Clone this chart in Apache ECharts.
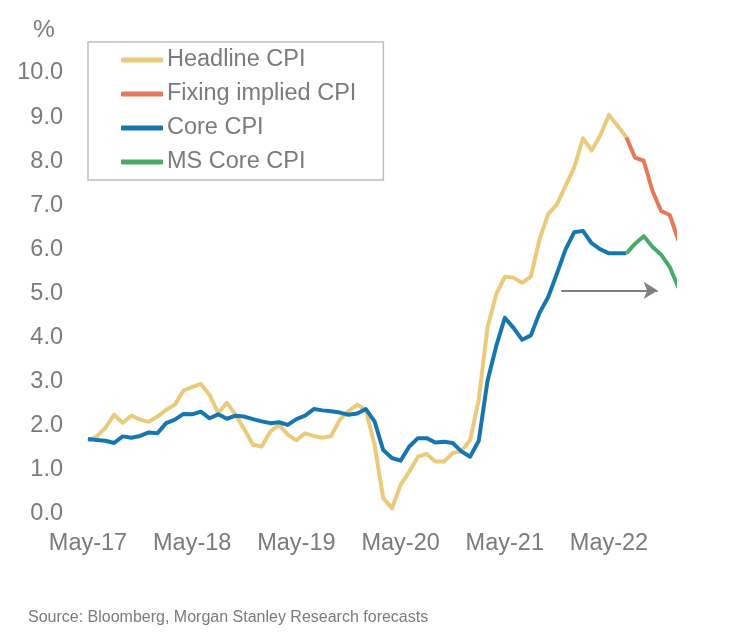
<!DOCTYPE html>
<html>
<head>
<meta charset="utf-8">
<script src="https://cdn.jsdelivr.net/npm/echarts@6/dist/echarts.min.js"></script>
<style>
html,body{margin:0;padding:0;background:#fff;}
#chart{width:754px;height:639px;}
</style>
</head>
<body>
<div id="chart"></div>
<script>
// ---- data (monthly, index 0 = first month on axis) ----
const tickLabels = ['May-17', 'May-18', 'May-19', 'May-20', 'May-21', 'May-22'];
const monthsPerTick = 12;
const lastMonthIndex = 67.6; // right edge of the plotted period

const headlineCPI = [
  1.66, 1.76, 1.95, 2.25, 2.07, 2.23, 2.14, 2.09, 2.21, 2.36, 2.48, 2.80,
  2.88, 2.95, 2.70, 2.29, 2.52, 2.25, 1.92, 1.57, 1.53, 1.87, 2.02, 1.80,
  1.67, 1.83, 1.77, 1.73, 1.77, 2.14, 2.33, 2.48, 2.36, 1.57, 0.36, 0.13,
  0.66, 0.96, 1.30, 1.36, 1.19, 1.19, 1.38, 1.43, 1.67, 2.59, 4.22, 4.98,
  5.38, 5.36, 5.24, 5.38, 6.23, 6.80, 7.02, 7.44, 7.86, 8.52, 8.24, 8.59,
  9.05, 8.80, 8.54
];
const coreCPI = [
  1.70, 1.68, 1.66, 1.61, 1.76, 1.73, 1.77, 1.85, 1.83, 2.06, 2.14, 2.27,
  2.26, 2.32, 2.17, 2.26, 2.16, 2.23, 2.21, 2.15, 2.10, 2.06, 2.08, 2.02,
  2.15, 2.23, 2.38, 2.35, 2.33, 2.30, 2.25, 2.28, 2.38, 2.10, 1.45, 1.27,
  1.21, 1.53, 1.72, 1.72, 1.62, 1.64, 1.61, 1.42, 1.30, 1.66, 3.01, 3.80,
  4.45, 4.22, 3.95, 4.05, 4.56, 4.92, 5.45, 6.00, 6.39, 6.42, 6.14, 6.00,
  5.91, 5.91, 5.91
];
const forecastStart = 62; // month index where forecasts begin
const fixingImpliedCPI = [8.54, 8.08, 8.01, 7.33, 6.87, 6.78, 6.20];
const msCoreCPI = [5.91, 6.13, 6.30, 6.06, 5.88, 5.60, 5.13];

const arrowY = 5.07, arrowFrom = 54.5, arrowTo = 65.6;

// ---- helpers ----
const toPairs = (arr, offset) => arr.map((v, i) => [i + offset, v]);

const textColor = '#7b7b7b';
const font = 'Liberation Sans, Arial, sans-serif';
const fs = 23.5;

const chart = echarts.init(document.getElementById('chart'), null, {renderer: 'canvas'});
chart.setOption({
  animation: false,
  backgroundColor: '#ffffff',
  grid: {left: 88, right: 79, top: 73, bottom: 125, containLabel: false},
  legend: {
    orient: 'vertical',
    left: 88, top: 42,
    padding: [6, 27, 6, 33],
    borderColor: '#bfbfbf', borderWidth: 1.5,
    itemWidth: 42, itemHeight: 5, itemGap: 10,
    icon: 'roundRect',
    textStyle: {fontSize: fs, color: textColor, fontFamily: font, padding: [2, 0, 0, -1]},
    data: ['Headline CPI', 'Fixing implied CPI', 'Core CPI', 'MS Core CPI']
  },
  xAxis: {
    type: 'value', min: 0, max: lastMonthIndex, interval: monthsPerTick,
    axisLine: {show: false}, axisTick: {show: false}, splitLine: {show: false},
    axisLabel: {
      margin: 18, fontSize: fs, color: textColor, fontFamily: font,
      showMaxLabel: false,
      formatter: v => (v % monthsPerTick === 0 ? (tickLabels[v / monthsPerTick] || '') : '')
    }
  },
  yAxis: {
    type: 'value', min: 0, max: 10, interval: 1,
    axisLine: {show: false}, axisTick: {show: false}, splitLine: {show: false},
    axisLabel: {margin: 25, fontSize: fs, color: textColor, fontFamily: font,
      padding: [9, 0, 0, 0],
      formatter: v => v.toFixed(1)}
  },
  graphic: [
    {type: 'text', left: 33, top: 18, style: {text: '%', fontSize: 24.5, fill: textColor, fontFamily: font}},
    {type: 'text', left: 28, top: 610, style: {text: 'Source: Bloomberg, Morgan Stanley Research forecasts', fontSize: 16, fill: textColor, fontFamily: font}}
  ],
  series: [
    {name: 'Headline CPI', type: 'line', data: toPairs(headlineCPI, 0), symbol: 'none',
      lineStyle: {width: 4, color: '#eacb7c', join: 'round'}, itemStyle: {color: '#eacb7c'}, z: 2},
    {name: 'Fixing implied CPI', type: 'line', data: toPairs(fixingImpliedCPI, forecastStart), symbol: 'none',
      lineStyle: {width: 4, color: '#e47a57', join: 'round'}, itemStyle: {color: '#e47a57'}, z: 2},
    {name: 'Core CPI', type: 'line', data: toPairs(coreCPI, 0), symbol: 'none',
      lineStyle: {width: 4, color: '#1677b0', join: 'round'}, itemStyle: {color: '#1677b0'}, z: 3,
      markLine: {
        silent: true, symbol: ['none', 'arrow'], symbolSize: [13, 14],
        label: {show: false},
        lineStyle: {color: '#808080', width: 2, type: 'solid'},
        data: [[{coord: [arrowFrom, arrowY]}, {coord: [arrowTo, arrowY]}]]
      }},
    {name: 'MS Core CPI', type: 'line', data: toPairs(msCoreCPI, forecastStart), symbol: 'none',
      lineStyle: {width: 4, color: '#4aab68', join: 'round'}, itemStyle: {color: '#4aab68'}, z: 3}
  ]
});
</script>
</body>
</html>
